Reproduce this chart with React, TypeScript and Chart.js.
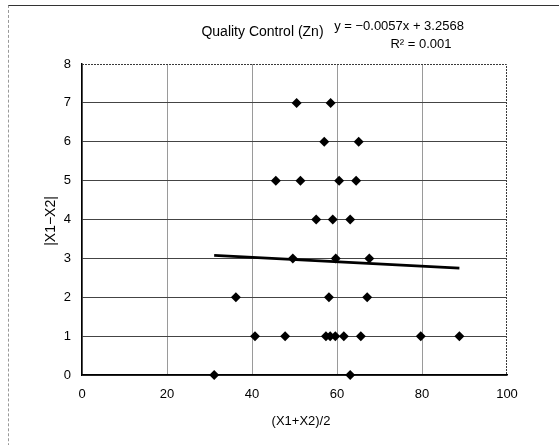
import React, { useEffect, useRef } from "react";
import { Chart, registerables } from "chart.js";

Chart.register(...registerables);

// ---- data ----
const pointX = [
  50.5, 58.5,
  57.0, 65.1,
  45.6, 51.4, 60.5, 64.5,
  55.1, 59.0, 63.1,
  49.6, 59.7, 67.6,
  36.2, 58.1, 67.1,
  40.7, 47.8, 57.4, 58.4, 59.6, 61.6, 65.6, 79.7, 88.8,
  31.1, 63.1,
];
const pointY = [
  7, 7,
  6, 6,
  5, 5, 5, 5,
  4, 4, 4,
  3, 3, 3,
  2, 2, 2,
  1, 1, 1, 1, 1, 1, 1, 1, 1,
  0, 0,
];
const trendSlope = -0.0057;
const trendIntercept = 3.2568;
const rSquaredText = "0.001";
const chartTitle = "Quality Control (Zn)";
const xAxisTitle = "(X1+X2)/2";
const yAxisTitle = "|X1\u2212X2|";
const xRange = [0, 100];
const xStep = 20;
const yRange = [0, 8];
const yStep = 1;

const FONT = "'Liberation Sans', Arial, sans-serif";

export default function App() {
  const canvasRef = useRef<HTMLCanvasElement | null>(null);

  useEffect(() => {
    const canvas = canvasRef.current;
    if (!canvas) return;

    const scatterData = pointX.map((x, i) => ({ x, y: pointY[i] }));
    const minX = Math.min(...pointX);
    const maxX = Math.max(...pointX);
    const trendData = [
      { x: minX, y: trendSlope * minX + trendIntercept },
      { x: maxX, y: trendSlope * maxX + trendIntercept },
    ];
    const eqText =
      "y = " +
      (trendSlope < 0 ? "\u2212" : "") +
      Math.abs(trendSlope).toFixed(4) +
      "x + " +
      trendIntercept.toFixed(4);

    const textPlugin = {
      id: "textPlugin",
      afterDraw(chart: any) {
        const { ctx, chartArea } = chart;
        ctx.save();
        // dotted top & right frame of plot area
        ctx.strokeStyle = "#3a3a3a";
        ctx.lineWidth = 1;
        ctx.setLineDash([2, 1]);
        ctx.beginPath();
        ctx.moveTo(chartArea.left, chartArea.top + 0.5);
        ctx.lineTo(chartArea.right - 0.5, chartArea.top + 0.5);
        ctx.lineTo(chartArea.right - 0.5, chartArea.bottom);
        ctx.stroke();
        ctx.setLineDash([]);

        ctx.fillStyle = "#000";
        ctx.textBaseline = "middle";
        ctx.textAlign = "center";
        ctx.font = "14px " + FONT;
        ctx.fillText(chartTitle, 262.5, 32);
        ctx.font = "13px " + FONT;
        ctx.fillText(eqText, 399, 26);
        ctx.fillText("R\u00B2 = " + rSquaredText, 421, 44);
        ctx.fillText(xAxisTitle, 301, 421);
        ctx.save();
        ctx.font = "14px " + FONT;
        ctx.translate(51, 221);
        ctx.rotate(-Math.PI / 2);
        ctx.fillText(yAxisTitle, 0, 0);
        ctx.restore();
        ctx.restore();
      },
    };

    const chart = new Chart(canvas, {
      type: "scatter",
      data: {
        datasets: [
          {
            type: "line",
            data: trendData,
            borderColor: "#000",
            borderWidth: 2.8,
            pointRadius: 0,
            showLine: true,
            fill: false,
            order: 2,
          } as any,
          {
            data: scatterData,
            backgroundColor: "#000",
            borderColor: "#000",
            pointStyle: "rectRot",
            pointRadius: 5,
            pointBorderWidth: 0,
            clip: false,
            order: 1,
          } as any,
        ],
      },
      options: {
        animation: false,
        responsive: false,
        devicePixelRatio: 1,
        layout: { padding: { left: 0, right: 52, top: 64, bottom: 15 } },
        plugins: {
          legend: { display: false },
          title: { display: false },
          tooltip: { enabled: false },
        },
        scales: {
          x: {
            type: "linear",
            min: xRange[0],
            max: xRange[1],
            ticks: {
              stepSize: xStep,
              padding: 12,
              color: "#000",
              font: { family: FONT, size: 13 },
            },
            grid: {
              drawTicks: false,
              color: (c: any) =>
                c.tick && c.tick.value === xRange[1] ? "rgba(0,0,0,0)" : "#9a9a9a",
              lineWidth: 1,
            },
            border: { color: "#000", width: 1.5 },
            afterFit: (s: any) => {
              s.height = 55;
            },
          },
          y: {
            type: "linear",
            min: yRange[0],
            max: yRange[1],
            ticks: {
              stepSize: yStep,
              padding: 11,
              color: "#000",
              font: { family: FONT, size: 13 },
            },
            grid: {
              drawTicks: false,
              color: (c: any) =>
                c.tick && c.tick.value === yRange[1] ? "rgba(0,0,0,0)" : "#444444",
              lineWidth: 1,
            },
            border: { color: "#000", width: 1.5 },
            afterFit: (s: any) => {
              s.width = 82;
            },
          },
        },
      },
      plugins: [textPlugin],
    });

    return () => chart.destroy();
  }, []);

  return (
    <div
      style={{
        position: "fixed",
        left: 0,
        top: 0,
        width: 559,
        height: 445,
        background: "#fff",
        overflow: "hidden",
      }}
    >
      <div
        style={{
          position: "absolute",
          left: 8,
          top: 5,
          width: 600,
          height: 500,
          borderTop: "1px solid #333",
          borderLeft: "1px dashed #999",
        }}
      />
      <canvas
        ref={canvasRef}
        width={559}
        height={445}
        style={{ position: "absolute", left: 0, top: 0, width: 559, height: 445 }}
      />
    </div>
  );
}
